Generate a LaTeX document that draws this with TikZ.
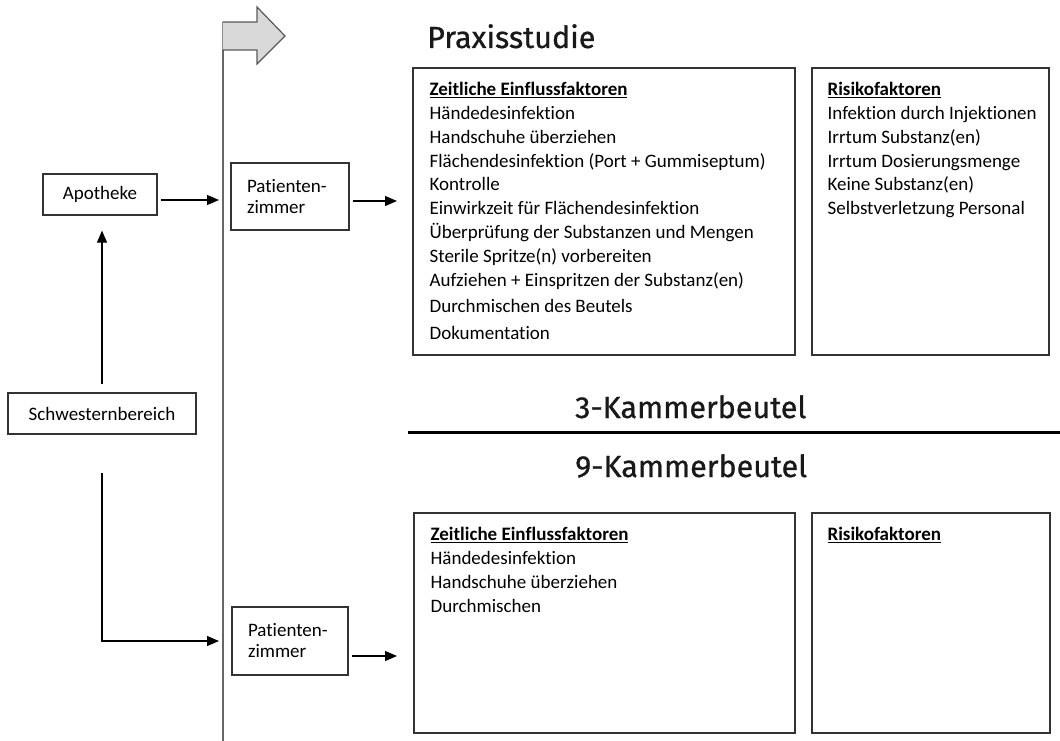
\documentclass[tikz,border=0pt]{standalone}
\usepackage{fontspec}
\setmainfont{Carlito}[Ligatures=NoCommon]
\newfontfamily\headfont{Fira Sans}[FakeBold=0.8]
\usetikzlibrary{arrows.meta}
\begin{document}
\begin{tikzpicture}[x=1pt,y=-1pt,
  box/.style={draw=black!80,line width=1.2pt,rectangle,inner sep=0pt},
  smallbox/.style={box,font=\fontsize{19}{21}\selectfont},
  boxtext/.style={anchor=north west,inner sep=0pt,align=left,font=\fontsize{19}{23.8}\selectfont},
  headtext/.style={anchor=base west,inner sep=0pt,font=\headfont\fontsize{30.5}{34}\selectfont,text=black!90},
  arr/.style={line width=1.2pt,-{Triangle[length=12pt,width=10pt]}},
  vline/.style={draw=black!60,line width=2pt},
]
\useasboundingbox (0,0) rectangle (1060,741);

% vertical divider and top arrow
\coordinate (vtop) at (222.5,22);
\coordinate (vbot) at (222.5,741);
\draw[vline] (vtop) -- (vbot);
\draw[draw=black!65,fill=black!15,line width=1.2pt,line join=miter]
  (vtop) -- (257,22) -- (257,7) -- (285,36) -- (257,64) -- (257,50) -- (222.5,50);

% left side nodes
\node[smallbox,minimum width=114pt,minimum height=41pt] (apo) at (100,194.5) {Apotheke};
\node[smallbox,minimum width=188pt,minimum height=41pt] (schw) at (102,413.5) {Schwesternbereich};
\node[smallbox,minimum width=118pt,minimum height=67pt,text width=86pt,align=left,inner xsep=16pt] (pat1) at (290,196.5) {Patienten-\\zimmer};
\node[smallbox,minimum width=116pt,minimum height=68pt,text width=84pt,align=left,inner xsep=16pt] (pat2) at (290,641) {Patienten-\\zimmer};

% headings
\node[headtext] (praxis) at (427,48) {Praxisstudie};
\node[headtext] (drei) at (575,418) {3-Kammerbeutel};
\node[headtext] (neun) at (575,477) {9-Kammerbeutel};
\coordinate (ruleL) at (408,432);
\coordinate (ruleR) at (1060,432);
\draw[line width=3pt,black] (ruleL) -- (ruleR);

% right boxes
\node[box,minimum width=382pt,minimum height=287pt] (z1) at (604,211.5) {};
\node[box,minimum width=237pt,minimum height=287pt] (r1) at (930.5,211.5) {};
\node[box,minimum width=381pt,minimum height=220pt] (z2) at (604.5,623) {};
\node[box,minimum width=238pt,minimum height=220pt] (r2) at (931,623) {};

\node[boxtext] (z1t) at ([xshift=17pt,yshift=-12pt]z1.north west) {\rule{0pt}{16pt}\textbf{\underline{Zeitliche Einflussfaktoren}}\\
Händedesinfektion\\
Handschuhe überziehen\\
Flächendesinfektion (Port + Gummiseptum)\\
Kontrolle\\
Einwirkzeit für Flächendesinfektion\\
Überprüfung der Substanzen und Mengen\\
Sterile Spritze(n) vorbereiten\\
Aufziehen + Einspritzen der Substanz(en)\\[3pt]
Durchmischen des Beutels\\[3pt]
Dokumentation};

\node[boxtext] (r1t) at ([xshift=16pt,yshift=-12pt]r1.north west) {\rule{0pt}{16pt}\textbf{\underline{Risikofaktoren}}\\
Infektion durch Injektionen\\
Irrtum Substanz(en)\\
Irrtum Dosierungsmenge\\
Keine Substanz(en)\\
Selbstverletzung Personal};

\node[boxtext,font=\fontsize{19}{24}\selectfont] (z2t) at ([xshift=17pt,yshift=-12pt]z2.north west) {\rule{0pt}{16pt}\textbf{\underline{Zeitliche Einflussfaktoren}}\\
Händedesinfektion\\
Handschuhe überziehen\\
Durchmischen};

\node[boxtext] (r2t) at ([xshift=16pt,yshift=-12pt]r2.north west) {\rule{0pt}{16pt}\textbf{\underline{Risikofaktoren}}};

% connectors
\coordinate (v1) at (219,200);
\coordinate (v2) at (219,641);
\coordinate (s2) at (102,473);
\draw[arr] ([xshift=3pt]apo.east |- v1) -- (v1);
\draw[arr] ([yshift=8pt]schw.north) -- ([yshift=-15pt]apo.south -| schw.north);
\draw[arr] (s2) |- (v2);
\coordinate (a1) at (397,201);
\coordinate (a2) at (397,656);
\draw[arr] ([xshift=3pt]pat1.east |- a1) -- (a1);
\draw[arr] ([xshift=3pt]pat2.east |- a2) -- (a2);
\end{tikzpicture}
\end{document}
